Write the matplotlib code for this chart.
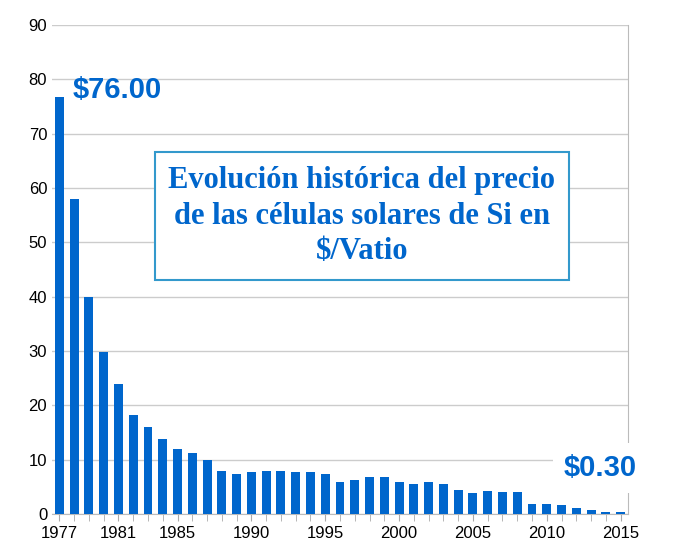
import matplotlib
matplotlib.use("Agg")
import matplotlib.pyplot as plt

plt.rcParams["font.family"] = "Liberation Sans"

years = list(range(1977, 2016))
prices = [76.7, 58.0, 40.0, 29.8, 24.0, 18.3, 16.0, 13.8, 12.0, 11.3,
          10.0, 8.0, 7.3, 7.7, 8.0, 8.0, 7.7, 7.7, 7.3, 5.9,
          6.3, 6.8, 6.8, 5.9, 5.6, 5.9, 5.6, 4.5, 3.8, 4.2,
          4.0, 4.0, 1.9, 1.8, 1.6, 1.1, 0.7, 0.4, 0.3]
label_years = [1977, 1981, 1985, 1990, 1995, 2000, 2005, 2010, 2015]

blue = "#0066cc"
fig = plt.figure(figsize=(6.82, 5.5), dpi=100)
ax = fig.add_axes([52 / 682, 36 / 550, 576 / 682, 489 / 550])
ax.bar(years, prices, width=0.6, color=blue, zorder=3)
ax.set_xlim(1976.5, 2015.5)
ax.set_ylim(0, 90)
ax.set_yticks(range(0, 91, 10))
ax.set_xticks(label_years)
ax.set_xticks(years, minor=True)
ax.tick_params(axis="x", which="both", length=5, color="#aaaaaa", labelsize=12)
ax.tick_params(axis="y", length=0, labelsize=12)
ax.grid(True, axis="y", color="#cccccc", linewidth=1, zorder=0)
for s in ["top", "left"]:
    ax.spines[s].set_visible(False)
ax.spines["right"].set_color("#bbbbbb")
ax.spines["bottom"].set_color("#bbbbbb")

fig.text(73 / 682, 1 - 90 / 550, "$76.00", color=blue, fontsize=21,
         fontweight="bold", va="center", ha="left")
fig.text(637 / 682, 1 - 468 / 550, "$0.30", color=blue, fontsize=21,
         fontweight="bold", va="center", ha="right",
         bbox=dict(facecolor="white", edgecolor="none", pad=8))
fig.text(362 / 682, 1 - 216 / 550,
         "Evolución histórica del precio\nde las células solares de Si en\n$/Vatio",
         color=blue, fontsize=22, fontweight="bold", family="Liberation Serif",
         ha="center", va="center", linespacing=1.3,
         bbox=dict(facecolor="white", edgecolor="#3399cc", linewidth=1.5,
                   boxstyle="square,pad=0.45"))

fig.savefig("out.png", dpi=100)
